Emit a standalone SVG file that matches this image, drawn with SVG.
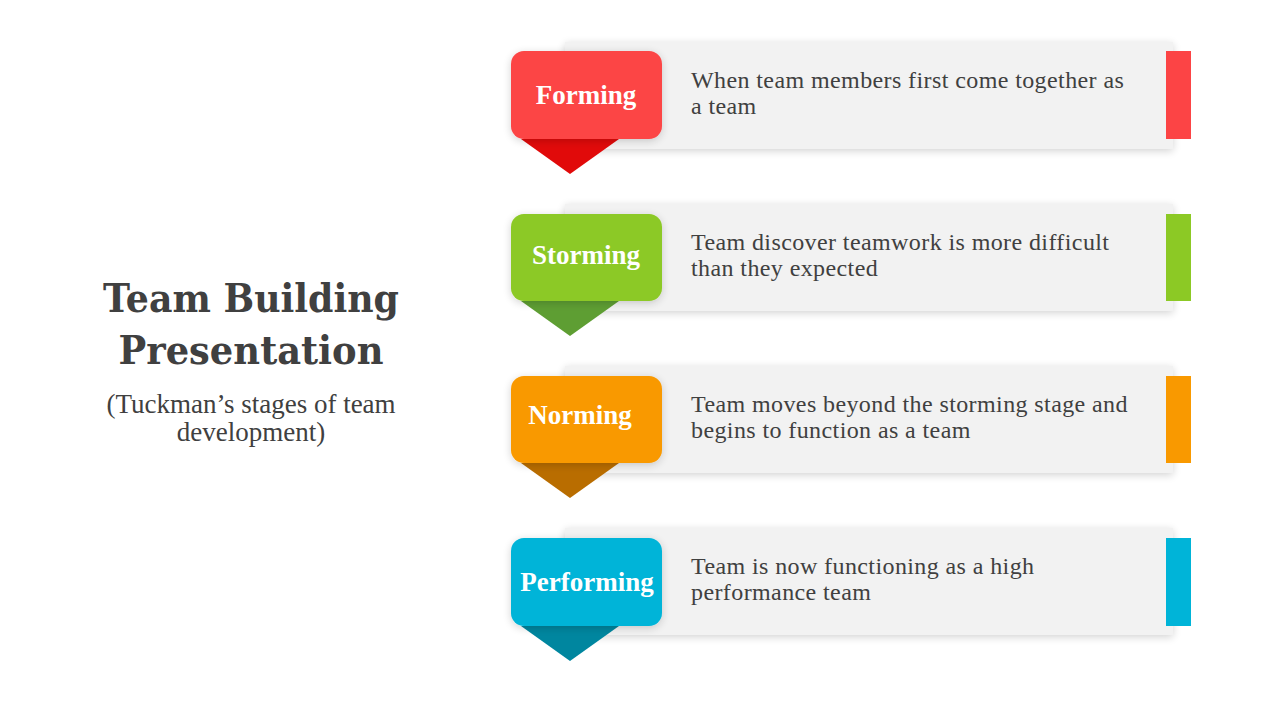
<svg xmlns="http://www.w3.org/2000/svg" width="1280" height="720" viewBox="0 0 1280 720">
<defs>
<filter id="sh" x="-10%" y="-20%" width="120%" height="140%">
<feGaussianBlur in="SourceAlpha" stdDeviation="4"/>
<feOffset dx="0" dy="2"/>
<feComponentTransfer><feFuncA type="linear" slope="0.18"/></feComponentTransfer>
<feMerge><feMergeNode/><feMergeNode in="SourceGraphic"/></feMerge>
</filter>
</defs>
<style>
.panel{fill:#f2f2f2;filter:url(#sh)}
.lbl{font-family:"Liberation Serif","DejaVu Serif",serif;font-weight:bold;font-size:27px;fill:#ffffff;text-anchor:middle}
.desc{font-family:"Liberation Serif","DejaVu Serif",serif;font-size:24px;letter-spacing:0.4px;fill:#404040}
.title{font-family:"DejaVu Serif","Liberation Serif",serif;font-weight:bold;font-size:39px;fill:#404040;text-anchor:middle}
.sub{font-family:"Liberation Serif","DejaVu Serif",serif;font-size:27px;fill:#404040;text-anchor:middle}
</style>
<rect width="1280" height="720" fill="#ffffff"/>
<g id="title">
<text class="title" x="251" y="312" textLength="296" lengthAdjust="spacingAndGlyphs">Team Building</text>
<text class="title" x="251" y="364" textLength="265" lengthAdjust="spacingAndGlyphs">Presentation</text>
<text class="sub" x="251" y="413">(Tuckman’s stages of team</text>
<text class="sub" x="251" y="441">development)</text>
</g>
<g id="forming">
<rect class="panel" x="565" y="42" width="608" height="107"/>
<rect x="1166" y="51" width="25" height="88" fill="#fc4445"/>
<polygon points="521,139 619,139 570,174" fill="#e10a0a"/>
<rect x="511" y="51" width="151" height="88" rx="13" fill="#fc4445" filter="url(#sh)"/>
<text class="lbl" x="586" y="104">Forming</text>
<text class="desc" x="691" y="88">When team members first come together as</text>
<text class="desc" x="691" y="114">a team</text>
</g>
<g id="storming">
<rect class="panel" x="565" y="204" width="608" height="107"/>
<rect x="1166" y="214" width="25" height="87" fill="#8cc925"/>
<polygon points="521,301 619,301 570,336" fill="#5e9e33"/>
<rect x="511" y="214" width="151" height="87" rx="13" fill="#8cc925" filter="url(#sh)"/>
<text class="lbl" x="586" y="264">Storming</text>
<text class="desc" x="691" y="250">Team discover teamwork is more difficult</text>
<text class="desc" x="691" y="276">than they expected</text>
</g>
<g id="norming">
<rect class="panel" x="565" y="366" width="608" height="107"/>
<rect x="1166" y="376" width="25" height="87" fill="#f99900"/>
<polygon points="521,463 619,463 570,498" fill="#b96d00"/>
<rect x="511" y="376" width="151" height="87" rx="13" fill="#f99900" filter="url(#sh)"/>
<text class="lbl" x="580" y="424">Norming</text>
<text class="desc" x="691" y="412">Team moves beyond the storming stage and</text>
<text class="desc" x="691" y="438">begins to function as a team</text>
</g>
<g id="performing">
<rect class="panel" x="565" y="528" width="608" height="107"/>
<rect x="1166" y="538" width="25" height="88" fill="#00b4d8"/>
<polygon points="521,626 619,626 570,661" fill="#00869f"/>
<rect x="511" y="538" width="151" height="88" rx="13" fill="#00b4d8" filter="url(#sh)"/>
<text class="lbl" x="587" y="591">Performing</text>
<text class="desc" x="691" y="574">Team is now functioning as a high</text>
<text class="desc" x="691" y="600">performance team</text>
</g>
<g id="connectors"></g>
</svg>
